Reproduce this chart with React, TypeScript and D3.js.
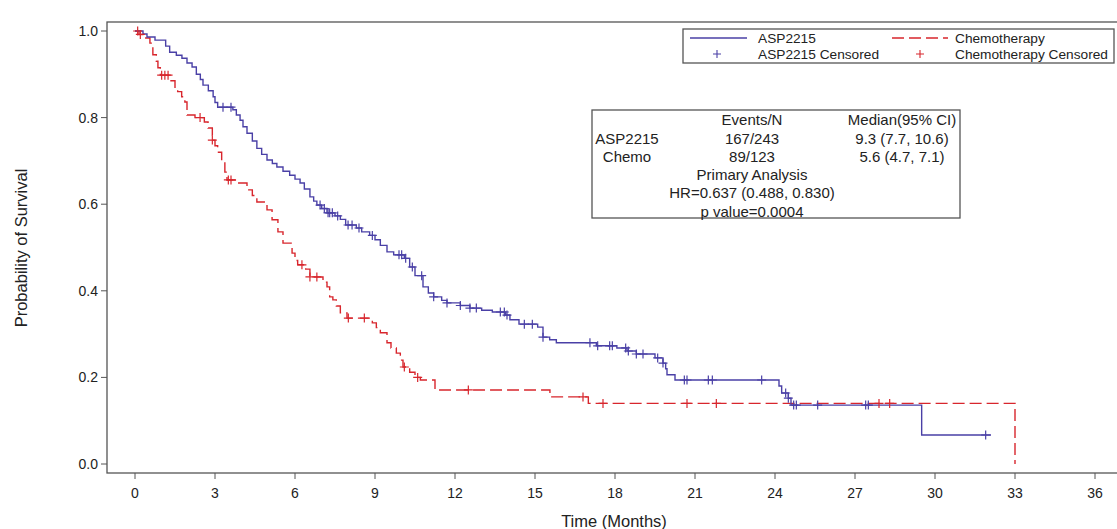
import { useEffect, useRef } from "react";
import * as d3 from "d3";

// Kaplan-Meier step points (time in months, survival after the step)
const aspTime = [0, 0.3, 0.45, 0.75, 1.15, 1.3, 1.55, 1.76, 1.95, 2.14, 2.3, 2.45, 2.55, 2.75, 2.93, 3.0, 3.1, 3.67, 3.8, 3.94, 4.05, 4.2, 4.4, 4.57, 4.75, 4.95, 5.15, 5.32, 5.55, 5.8, 6.0, 6.19, 6.35, 6.56, 6.7, 6.82, 7.0, 7.2, 7.5, 7.7, 7.9, 8.3, 8.5, 8.8, 9.0, 9.2, 9.45, 9.7, 10.1, 10.3, 10.5, 10.8, 11.0, 11.2, 11.5, 11.7, 12.2, 12.56, 13.0, 13.4, 13.9, 14.06, 14.4, 15.1, 15.3, 15.55, 15.8, 17.3, 18.07, 18.45, 18.8, 19.5, 19.8, 19.9, 19.95, 20.25, 24.15, 24.25, 24.5, 24.6, 29.5, 32.1];
const aspSurv = [1.0, 0.993, 0.986, 0.979, 0.965, 0.951, 0.944, 0.937, 0.926, 0.917, 0.9, 0.888, 0.875, 0.862, 0.848, 0.835, 0.824, 0.818, 0.806, 0.794, 0.779, 0.764, 0.746, 0.729, 0.715, 0.702, 0.694, 0.686, 0.676, 0.667, 0.658, 0.649, 0.635, 0.617, 0.607, 0.598, 0.59, 0.58, 0.573, 0.565, 0.552, 0.545, 0.536, 0.528, 0.518, 0.505, 0.49, 0.483, 0.475, 0.455, 0.435, 0.409, 0.395, 0.386, 0.378, 0.372, 0.366, 0.36, 0.355, 0.351, 0.344, 0.333, 0.323, 0.316, 0.293, 0.287, 0.28, 0.273, 0.268, 0.261, 0.254, 0.245, 0.233, 0.22, 0.206, 0.194, 0.18, 0.164, 0.152, 0.136, 0.067, 0.067];
const aspCensor = [3.3, 3.6, 6.94, 7.1, 7.24, 7.3, 7.4, 7.6, 7.99, 8.14, 8.4, 8.9, 9.9, 10.0, 10.15, 10.4, 10.75, 11.2, 11.7, 12.2, 12.56, 12.8, 13.7, 13.85, 13.95, 14.6, 14.9, 15.3, 17.06, 17.35, 17.8, 17.9, 18.4, 18.5, 18.8, 19.05, 19.6, 19.8, 20.6, 20.7, 21.5, 21.65, 23.5, 24.4, 24.5, 24.7, 24.8, 25.6, 27.4, 27.5, 31.9];

const chemoTime = [0, 0.15, 0.37, 0.56, 0.67, 0.8, 0.86, 0.95, 1.35, 1.5, 1.6, 1.75, 1.87, 1.95, 2.25, 2.6, 2.74, 2.9, 3.0, 3.1, 3.25, 3.37, 3.45, 3.82, 4.2, 4.4, 4.57, 4.95, 5.14, 5.36, 5.55, 5.89, 6.0, 6.1, 6.4, 6.56, 7.05, 7.2, 7.3, 7.42, 7.55, 7.7, 7.95, 8.9, 9.05, 9.2, 9.45, 9.6, 9.8, 9.95, 10.05, 10.3, 10.5, 10.7, 11.25, 15.56, 17.0, 33.0];
const chemoSurv = [1.0, 0.992, 0.984, 0.972, 0.945, 0.93, 0.915, 0.898, 0.885, 0.87, 0.86, 0.848, 0.836, 0.806, 0.8, 0.79, 0.776, 0.748, 0.735, 0.72, 0.7, 0.674, 0.656, 0.649, 0.633, 0.62, 0.605, 0.587, 0.564, 0.536, 0.51, 0.487, 0.47, 0.46, 0.45, 0.432, 0.42, 0.409, 0.386, 0.379, 0.365, 0.349, 0.337, 0.326, 0.315, 0.303, 0.28, 0.268, 0.256, 0.24, 0.224, 0.212, 0.2, 0.194, 0.171, 0.155, 0.14, 0.0];
const chemoCensor = [0.1, 0.2, 1.0, 1.12, 1.24, 2.44, 2.9, 3.5, 3.6, 6.26, 6.56, 6.82, 8.0, 8.6, 10.1, 10.6, 12.5, 16.8, 17.55, 20.7, 21.8, 27.9, 28.3];

const xTicks = [0, 3, 6, 9, 12, 15, 18, 21, 24, 27, 30, 33, 36];
const yTicks = [0, 0.2, 0.4, 0.6, 0.8, 1.0];

const statHeader = ["", "Events/N", "Median(95% CI)"];
const statRows = [
  ["ASP2215", "167/243", "9.3 (7.7, 10.6)"],
  ["Chemo", "89/123", "5.6 (4.7, 7.1)"],
];
const statFooter = ["Primary Analysis", "HR=0.637 (0.488, 0.830)", "p value=0.0004"];

const BLUE = "#4a40a6";
const RED = "#d8262d";
const FONT = "'Liberation Sans', Arial, sans-serif";

export default function App() {
  const ref = useRef(null);

  useEffect(() => {
    const svg = d3.select(ref.current);
    svg.selectAll("*").remove();

    const x = d3.scaleLinear().domain([0, 36]).range([135, 1095]);
    const y = d3.scaleLinear().domain([0, 1]).range([464, 31]);

    // frame: left, top and bottom lines (right side runs off the picture)
    const frame = { left: 107, top: 22, bottom: 473, right: 1125 };
    svg
      .append("rect")
      .attr("x", frame.left)
      .attr("y", frame.top)
      .attr("width", frame.right - frame.left)
      .attr("height", frame.bottom - frame.top)
      .attr("fill", "none")
      .attr("stroke", "#555")
      .attr("stroke-width", 1.3);

    // y axis
    const yAxis = svg.append("g").attr("font-family", FONT).attr("font-size", 14);
    yTicks.forEach((v) => {
      yAxis
        .append("line")
        .attr("x1", frame.left - 6)
        .attr("x2", frame.left)
        .attr("y1", y(v))
        .attr("y2", y(v))
        .attr("stroke", "#555");
      yAxis
        .append("text")
        .attr("x", frame.left - 9)
        .attr("y", y(v))
        .attr("dy", "0.35em")
        .attr("text-anchor", "end")
        .attr("fill", "#222")
        .text(d3.format(".1f")(v));
    });

    // x axis
    const xAxis = svg.append("g").attr("font-family", FONT).attr("font-size", 14);
    xTicks.forEach((t) => {
      xAxis
        .append("line")
        .attr("x1", x(t))
        .attr("x2", x(t))
        .attr("y1", frame.bottom)
        .attr("y2", frame.bottom + 6)
        .attr("stroke", "#555");
      xAxis
        .append("text")
        .attr("x", x(t))
        .attr("y", frame.bottom + 20)
        .attr("dy", "0.35em")
        .attr("text-anchor", "middle")
        .attr("fill", "#222")
        .text(t);
    });

    svg
      .append("text")
      .attr("x", 614)
      .attr("y", 521)
      .attr("dy", "0.35em")
      .attr("text-anchor", "middle")
      .attr("font-family", FONT)
      .attr("font-size", 16.5)
      .attr("fill", "#222")
      .text("Time (Months)");

    svg
      .append("text")
      .attr("transform", "translate(21,248) rotate(-90)")
      .attr("dy", "0.35em")
      .attr("text-anchor", "middle")
      .attr("font-family", FONT)
      .attr("font-size", 16.5)
      .attr("fill", "#222")
      .text("Probability of Survival");

    // survival curves
    const line = d3
      .line()
      .x((d) => x(d[0]))
      .y((d) => y(d[1]))
      .curve(d3.curveStepAfter);

    const aspData = aspTime.map((t, i) => [t, aspSurv[i]]);
    const chemoData = chemoTime.map((t, i) => [t, chemoSurv[i]]);

    const survAt = (data, t) => {
      let s = data[0][1];
      for (const d of data) if (d[0] <= t) s = d[1];
      return s;
    };

    const drawCensor = (g, data, times, color) => {
      times.forEach((t) => {
        const cx = x(t);
        const cy = y(survAt(data, t));
        g.append("path")
          .attr("d", `M${cx - 4.5},${cy}H${cx + 4.5}M${cx},${cy - 4.5}V${cy + 4.5}`)
          .attr("stroke", color)
          .attr("stroke-width", 1.2)
          .attr("fill", "none");
      });
    };

    const curves = svg.append("g");
    curves
      .append("path")
      .datum(chemoData)
      .attr("d", line)
      .attr("fill", "none")
      .attr("stroke", RED)
      .attr("stroke-width", 1.4)
      .attr("stroke-dasharray", "12,5");
    curves
      .append("path")
      .datum(aspData)
      .attr("d", line)
      .attr("fill", "none")
      .attr("stroke", BLUE)
      .attr("stroke-width", 1.4);
    drawCensor(curves, chemoData, chemoCensor, RED);
    drawCensor(curves, aspData, aspCensor, BLUE);

    // legend
    const lg = svg.append("g").attr("font-family", FONT).attr("font-size", 13.7).attr("fill", "#222");
    lg.append("rect")
      .attr("x", 683)
      .attr("y", 29)
      .attr("width", 431)
      .attr("height", 34)
      .attr("fill", "white")
      .attr("stroke", "#555")
      .attr("stroke-width", 1.3);
    lg.append("line").attr("x1", 690).attr("x2", 747).attr("y1", 38).attr("y2", 38).attr("stroke", BLUE).attr("stroke-width", 1.3);
    lg.append("line").attr("x1", 892).attr("x2", 948).attr("y1", 38).attr("y2", 38).attr("stroke", RED).attr("stroke-width", 1.3).attr("stroke-dasharray", "12,5");
    lg.append("path").attr("d", "M713,54H721M717,50V58").attr("stroke", BLUE).attr("stroke-width", 1.1);
    lg.append("path").attr("d", "M916,54H924M920,50V58").attr("stroke", RED).attr("stroke-width", 1.1);
    const legendItems = [
      ["ASP2215", 758, 38],
      ["Chemotherapy", 955, 38],
      ["ASP2215 Censored", 758, 54],
      ["Chemotherapy Censored", 955, 54],
    ];
    legendItems.forEach(([label, lx, ly]) => {
      lg.append("text").attr("x", lx).attr("y", ly).attr("dy", "0.35em").text(label);
    });

    // statistics box
    const sb = svg.append("g").attr("font-family", FONT).attr("font-size", 15).attr("fill", "#222").attr("text-anchor", "middle");
    sb.append("rect")
      .attr("x", 592)
      .attr("y", 110)
      .attr("width", 368)
      .attr("height", 108)
      .attr("fill", "white")
      .attr("stroke", "#555")
      .attr("stroke-width", 1.3);
    const cols = [627, 752, 902];
    const rowY = (i) => 120 + i * 18.3;
    [statHeader, ...statRows].forEach((row, i) => {
      row.forEach((cell, j) => {
        sb.append("text").attr("x", cols[j]).attr("y", rowY(i)).attr("dy", "0.35em").text(cell);
      });
    });
    statFooter.forEach((cell, i) => {
      sb.append("text").attr("x", cols[1]).attr("y", rowY(3 + i)).attr("dy", "0.35em").text(cell);
    });
  }, []);

  return (
    <svg
      ref={ref}
      width={1117}
      height={529}
      style={{ position: "absolute", left: 0, top: 0, background: "white" }}
    />
  );
}
